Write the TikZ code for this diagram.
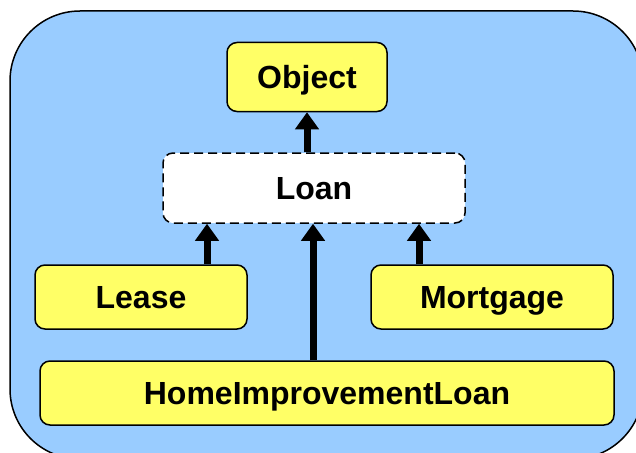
\documentclass[tikz,border=0pt]{standalone}
\usepackage{fontspec}
\setmainfont{Liberation Sans}
\usetikzlibrary{arrows.meta}

\begin{document}
\begin{tikzpicture}[x=1pt, y=-1pt]
    \definecolor{backColour}{HTML}{99CCFF}
    \definecolor{classColour}{HTML}{FFFF66}
    \tikzset{
        classBox/.style={draw=black, line width=1.5pt, rounded corners=10pt, fill=classColour,
            font=\fontsize{32}{33}\selectfont\bfseries, inner sep=0pt,
            text height=23pt, text depth=0pt},
        inherit/.style={line width=7pt, -{Triangle[width=23pt, length=17pt]}}
    }

    % Page and background
    \clip (0,0) rectangle (636,452);
    \filldraw[fill=backColour, draw=black, line width=1.5pt, rounded corners=70pt]
        (10,11) rectangle (643,459);

    % Classes
    \node[classBox, minimum width=160pt, minimum height=69pt] (object) at (307,77) {Object};
    \node[classBox, fill=white, dashed, dash pattern=on 9pt off 5pt,
          minimum width=302pt, minimum height=70pt] (loan) at (314,188) {Loan};
    \node[classBox, minimum width=212pt, minimum height=64pt] (lease) at (141,297) {Lease};
    \node[classBox, minimum width=242pt, minimum height=64pt] (mortgage) at (492,297) {Mortgage};
    \node[classBox, minimum width=574pt, minimum height=64pt] (homeLoan) at (327,393) {HomeImprovementLoan};

    % Inheritance arrows
    \draw[inherit] (loan.north -| 307,0) -- (object.south -| 307,0);
    \draw[inherit] (lease.north -| 207,0) -- (loan.south -| 207,0);
    \draw[inherit] (mortgage.north -| 419,0) -- (loan.south -| 419,0);
    \draw[inherit] (homeLoan.north -| 313,0) -- (loan.south -| 313,0);
\end{tikzpicture}
\end{document}
